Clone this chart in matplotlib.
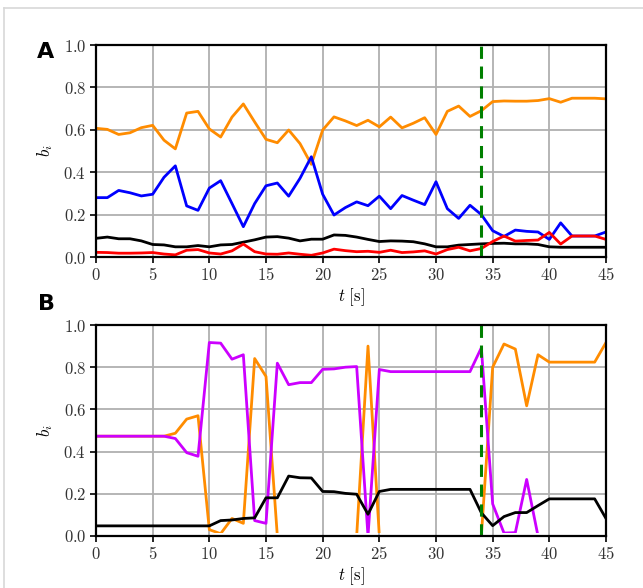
import matplotlib
matplotlib.use("Agg")
import matplotlib.pyplot as plt
from matplotlib.ticker import FuncFormatter
from matplotlib.lines import Line2D
from matplotlib.patches import Rectangle
import numpy as np

plt.rcParams['mathtext.fontset'] = 'cm'
plt.rcParams['font.family'] = ['DejaVu Serif']

t = list(range(46))

a_orange = [0.607, 0.602, 0.578, 0.586, 0.61, 0.621, 0.551, 0.51, 0.679, 0.687,
            0.604, 0.566, 0.66, 0.722, 0.637, 0.555, 0.539, 0.599, 0.535, 0.437,
            0.599, 0.661, 0.642, 0.62, 0.645, 0.614, 0.66, 0.609, 0.631, 0.657,
            0.578, 0.687, 0.712, 0.663, 0.69, 0.733, 0.736, 0.735, 0.735, 0.738,
            0.747, 0.73, 0.749, 0.749, 0.749, 0.746]
a_blue = [0.28, 0.28, 0.314, 0.303, 0.288, 0.296, 0.376, 0.43, 0.241, 0.22,
          0.325, 0.36, 0.252, 0.143, 0.252, 0.336, 0.349, 0.287, 0.371, 0.473,
          0.296, 0.198, 0.233, 0.26, 0.242, 0.287, 0.228, 0.29, 0.268, 0.247,
          0.355, 0.228, 0.182, 0.244, 0.2, 0.124, 0.097, 0.127, 0.121, 0.118,
          0.083, 0.161, 0.099, 0.099, 0.099, 0.118]
a_black = [0.088, 0.094, 0.086, 0.086, 0.076, 0.059, 0.057, 0.048, 0.048, 0.054,
           0.048, 0.057, 0.059, 0.07, 0.081, 0.094, 0.096, 0.089, 0.076, 0.084,
           0.084, 0.104, 0.102, 0.094, 0.083, 0.073, 0.076, 0.075, 0.072, 0.062,
           0.048, 0.048, 0.056, 0.059, 0.062, 0.064, 0.065, 0.062, 0.062, 0.059,
           0.048, 0.046, 0.046, 0.046, 0.046, 0.046]
a_red = [0.022, 0.021, 0.018, 0.018, 0.019, 0.021, 0.014, 0.01, 0.032, 0.035,
         0.019, 0.014, 0.029, 0.061, 0.025, 0.014, 0.013, 0.019, 0.013, 0.008,
         0.019, 0.037, 0.03, 0.025, 0.027, 0.022, 0.032, 0.021, 0.024, 0.029,
         0.014, 0.035, 0.046, 0.029, 0.04, 0.073, 0.099, 0.075, 0.078, 0.08,
         0.116, 0.061, 0.099, 0.099, 0.099, 0.083]

b_orange = [0.473, 0.473, 0.473, 0.473, 0.473, 0.473, 0.473, 0.487, 0.554, 0.57,
            0.03, 0.011, 0.083, 0.06, 0.841, 0.756, 0.0, 0.0, 0.0, 0.0,
            0.0, 0.0, 0.0, 0.0, 0.9, 0.0, 0.0, 0.0, 0.0, 0.0,
            0.0, 0.0, 0.0, 0.0, 0.0, 0.8, 0.91, 0.886, 0.617, 0.859,
            0.824, 0.824, 0.824, 0.824, 0.824, 0.917]
b_magenta = [0.473, 0.473, 0.473, 0.473, 0.473, 0.473, 0.473, 0.462, 0.395, 0.378,
             0.917, 0.914, 0.838, 0.859, 0.073, 0.06, 0.819, 0.717, 0.727, 0.727,
             0.79, 0.792, 0.8, 0.803, 0.0, 0.789, 0.779, 0.779, 0.779, 0.779,
             0.779, 0.779, 0.779, 0.779, 0.892, 0.152, 0.014, 0.016, 0.268, 0.0,
             0.0, 0.0, 0.0, 0.0, 0.0, 0.0]
b_black = [0.048, 0.048, 0.048, 0.048, 0.048, 0.048, 0.048, 0.048, 0.048, 0.048,
           0.048, 0.073, 0.076, 0.083, 0.086, 0.181, 0.181, 0.284, 0.276, 0.275,
           0.211, 0.21, 0.202, 0.198, 0.103, 0.211, 0.221, 0.221, 0.221, 0.221,
           0.221, 0.221, 0.221, 0.221, 0.11, 0.049, 0.092, 0.111, 0.111, 0.144,
           0.176, 0.176, 0.176, 0.176, 0.176, 0.083]

switch_t = 34
xticks = [0, 5, 10, 15, 20, 25, 30, 35, 40, 45]
yticks = [0.0, 0.2, 0.4, 0.6, 0.8, 1.0]

W, H = 643, 588
fig = plt.figure(figsize=(W / 100, H / 100), dpi=100)

# light border
fig.add_artist(Line2D([4 / W, 1], [1 - 7.5 / H, 1 - 7.5 / H], color='#d8d8d8', lw=1.2, transform=fig.transFigure))
fig.add_artist(Line2D([4 / W, 4 / W], [0, 1 - 7.5 / H], color='#d8d8d8', lw=1.2, transform=fig.transFigure))

left = 96 / W
width = (606 - 96) / W
axA = fig.add_axes([left, 1 - 257 / H, width, (257 - 45) / H])
axB = fig.add_axes([left, 1 - 536 / H, width, (536 - 325) / H])

lw = 2.0
axA.plot(t, a_orange, color='#ff8c00', lw=lw, zorder=3)
axA.plot(t, a_blue, color='#0000ff', lw=lw, zorder=3)
axA.plot(t, a_black, color='black', lw=lw, zorder=3)
axA.plot(t, a_red, color='#ff0000', lw=lw, zorder=3)

linesB = []
linesB += axB.plot(t, b_orange, color='#ff8c00', lw=lw, zorder=3)
linesB += axB.plot(t, b_magenta, color='#cc00ff', lw=lw, zorder=3)
linesB += axB.plot(t, b_black, color='black', lw=lw, zorder=3)

fmt_y = FuncFormatter(lambda v, p: r"$%.1f$" % v)
fmt_x = FuncFormatter(lambda v, p: r"$%d$" % v)

for ax in (axA, axB):
    ax.axvline(switch_t, color='#008000', lw=2.2, ls=(0, (4, 2.5)), zorder=4)
    ax.set_xlim(0, 45)
    ax.set_ylim(0, 1)
    ax.set_xticks(xticks)
    ax.set_yticks(yticks)
    ax.xaxis.set_major_formatter(fmt_x)
    ax.yaxis.set_major_formatter(fmt_y)
    ax.grid(True, color='#b0b0b0', lw=1.3, zorder=0)
    ax.set_axisbelow(True)
    for s in ax.spines.values():
        s.set_linewidth(1.6)
        s.set_zorder(5)
    ax.tick_params(direction='out', length=4, width=1.2, labelsize=12, colors='black',
                   labelcolor='#333333', pad=3)
    ax.set_xlabel(r"$t\ [\mathrm{s}]$", fontsize=12, labelpad=2)
    ax.set_ylabel(r"$b_i$", fontsize=12, labelpad=6)

# hide the part of panel-B lines lying along the bottom spine
clipB = Rectangle((0, 0.012), 45, 1.0, transform=axB.transData)
for ln in linesB:
    ln.set_clip_path(clipB)

fig.text(46 / W, 1 - 52 / H, 'A', fontsize=16, fontweight='bold', family='DejaVu Sans',
         ha='center', va='center')
fig.text(47 / W, 1 - 304 / H, 'B', fontsize=16, fontweight='bold', family='DejaVu Sans',
         ha='center', va='center')

fig.savefig('out.png', dpi=100)
